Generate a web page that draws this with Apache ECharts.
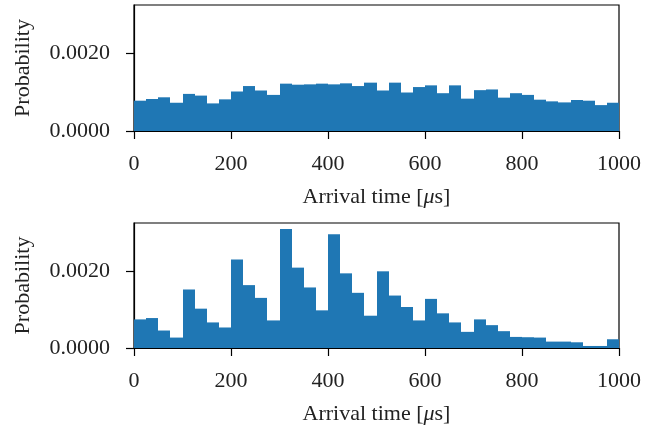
<!DOCTYPE html>
<html>
<head>
<meta charset="utf-8">
<script src="https://cdn.jsdelivr.net/npm/echarts@6/dist/echarts.min.js"></script>
<style>
html,body{margin:0;padding:0;background:#fff;}
#chart{width:657px;height:426px;}
</style>
</head>
<body>
<div id="chart"></div>
<script>
const binEdges = [0,25,50,75,100,125,150,175,200,225,250,275,300,325,350,375,400,425,450,475,500,525,550,575,600,625,650,675,700,725,750,775,800,825,850,875,900,925,950,975,1000];
const topValues = [0.000784,0.000828,0.000872,0.000731,0.000960,0.000916,0.000714,0.000819,0.001022,0.001163,
  0.001048,0.000934,0.001225,0.001198,0.001207,0.001225,0.001207,0.001233,0.001163,0.001251,
  0.001048,0.001251,0.000996,0.001137,0.001181,0.000978,0.001181,0.000837,0.001057,0.001075,
  0.000863,0.000978,0.000934,0.000810,0.000767,0.000740,0.000802,0.000784,0.000670,0.000731];
const bottomValues = [0.000746,0.000781,0.000456,0.000272,0.001526,0.001026,0.000667,0.000535,0.002307,0.001640,
  0.001307,0.000719,0.003105,0.002096,0.001579,0.000982,0.002965,0.001947,0.001439,0.000842,
  0.002000,0.001368,0.001070,0.000719,0.001281,0.000904,0.000667,0.000421,0.000746,0.000596,
  0.000439,0.000289,0.000281,0.000272,0.000167,0.000167,0.000149,0.000053,0.000053,0.000228];
const xTicks = [0,200,400,600,800,1000];
const yTicks = [0,0.002];
const xName = 'Arrival time [{i|\u03bc}s]';
const yName = 'Probability';

const FONT = 'Liberation Serif';
const FS = 22;
const TXT = '#222';
const barColor = '#1f77b4';

function histData(vals){
  return vals.map((v,i)=>[binEdges[i], binEdges[i+1], v]);
}
function renderItem(params, api){
  const p0 = api.coord([api.value(0), api.value(2)]);
  const p1 = api.coord([api.value(1), 0]);
  const x0 = Math.round(p0[0]), x1 = Math.round(p1[0]);
  return {type:'rect', shape:{x:x0, y:p0[1], width:x1-x0, height:p1[1]-p0[1]},
    style:{fill:barColor}};
}
const grids = [
  {left:134, top:5, width:485, height:126},
  {left:134, top:223, width:485, height:125}
];
function xAxis(gi){
  return {type:'value', gridIndex:gi, min:0, max:1000,
    axisLine:{show:true, lineStyle:{color:'#000', width:1.2}},
    axisTick:{show:true, length:8, customValues:xTicks, lineStyle:{color:'#000', width:1.2}},
    axisLabel:{customValues:xTicks, margin:22, color:TXT, fontFamily:FONT, fontSize:FS,
      formatter:v=>String(v)},
    splitLine:{show:false},
    name:xName, nameLocation:'middle', nameGap:55,
    nameTextStyle:{color:TXT, fontFamily:FONT, fontSize:FS, rich:{i:{fontStyle:'italic', fontFamily:FONT, fontSize:FS, color:TXT}}}
  };
}
function yAxis(gi){
  return {type:'value', gridIndex:gi, min:0, max:0.00326,
    axisLine:{show:true, lineStyle:{color:'#000', width:1.2}},
    axisTick:{show:true, length:8, customValues:yTicks, lineStyle:{color:'#000', width:1.2}},
    axisLabel:{customValues:yTicks, margin:24, color:TXT, fontFamily:FONT, fontSize:FS,
      formatter:v=>v.toFixed(4)},
    splitLine:{show:false},
    name:yName, nameLocation:'middle', nameGap:100,
    nameTextStyle:{color:TXT, fontFamily:FONT, fontSize:FS}
  };
}
const chart = echarts.init(document.getElementById('chart'), null, {renderer:'canvas'});
chart.setOption({
  animation:false,
  backgroundColor:'#fff',
  grid: grids.map(g=>Object.assign({show:true, borderColor:'#000', borderWidth:1.2, backgroundColor:'transparent'}, g)),
  xAxis:[xAxis(0), xAxis(1)],
  yAxis:[yAxis(0), yAxis(1)],
  series:[
    {type:'custom', xAxisIndex:0, yAxisIndex:0, renderItem, data:histData(topValues), encode:{x:[0,1], y:2}},
    {type:'custom', xAxisIndex:1, yAxisIndex:1, renderItem, data:histData(bottomValues), encode:{x:[0,1], y:2}}
  ]
});
</script>
</body>
</html>
